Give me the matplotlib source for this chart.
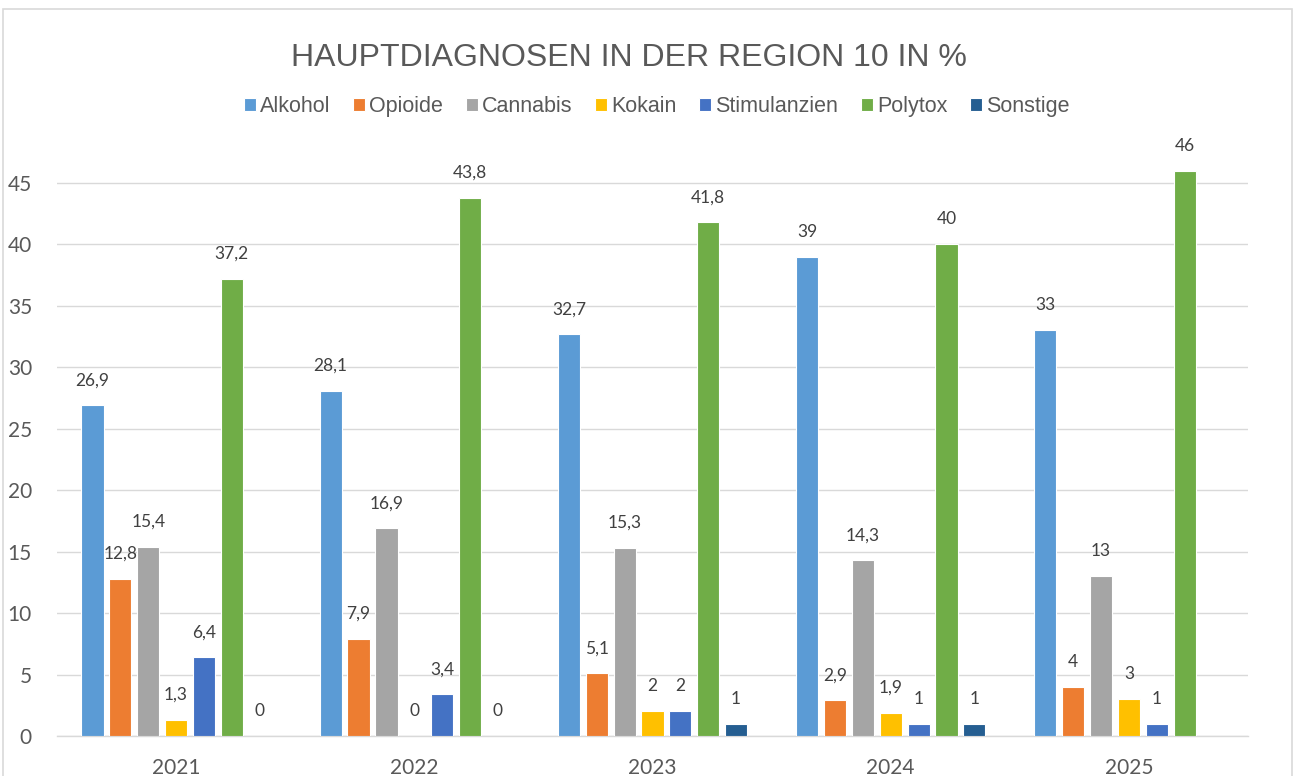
#Hauptdiagnosen Region 10 - grouped bar chart
import numpy as np
import matplotlib
matplotlib.use("Agg")
import matplotlib.pyplot as plt
from matplotlib.patches import Rectangle

# data
years = ["2021", "2022", "2023", "2024", "2025"]
series_names = ["Alkohol", "Opioide", "Cannabis", "Kokain", "Stimulanzien", "Polytox", "Sonstige"]
alkohol = [26.9, 28.1, 32.7, 39, 33]
opioide = [12.8, 7.9, 5.1, 2.9, 4]
cannabis = [15.4, 16.9, 15.3, 14.3, 13]
kokain = [1.3, 0, 2, 1.9, 3]
stimulanzien = [6.4, 3.4, 2, 1, 1]
polytox = [37.2, 43.8, 41.8, 40, 46]
sonstige = [0, 0, 1, 1, np.nan]

colors = ["#5B9BD5", "#ED7D31", "#A5A5A5", "#FFC000", "#4472C4", "#70AD47", "#255E91"]
all_series = [alkohol, opioide, cannabis, kokain, stimulanzien, polytox, sonstige]

def fmt(v):
    # german decimal comma like Excel
    if float(v).is_integer():
        return str(int(v))
    return str(v).replace(".", ",")

fig = plt.figure(figsize=(12.98, 7.76), dpi=100)
ax = fig.add_axes([0.0439, 0.0515, 0.9176, 0.7919])

x = np.arange(len(years))
step = 0.117
width = 0.093
n = len(all_series)

for i, (name, vals, col) in enumerate(zip(series_names, all_series, colors)):
    pos = x + (i - (n - 1) / 2) * step
    ax.bar(pos, vals, width=width, color=col, label=name, edgecolor="white", linewidth=0.8, zorder=3)
    for px, v in zip(pos, vals):
        if np.isnan(v):
            continue
        ax.annotate(fmt(v), (px, v), xytext=(0, 18), textcoords="offset points",
                    ha="center", va="center", fontsize=12.5, color="#404040", family="Lato")

ax.set_ylim(0, 50)
ax.set_xlim(-0.5, len(years) - 0.5)
ax.set_yticks(range(0, 50, 5))
ax.set_xticks(x)
ax.set_xticklabels(years)
ax.tick_params(axis="both", length=0, labelsize=15, colors="#595959")
ax.tick_params(axis="x", pad=16)
ax.tick_params(axis="y", pad=18)
for lab in ax.get_xticklabels() + ax.get_yticklabels():
    lab.set_family("Lato")

ax.grid(axis="y", color="#D9D9D9", linewidth=1, zorder=0)
for s in ["top", "right", "left"]:
    ax.spines[s].set_visible(False)
ax.spines["bottom"].set_color("#D9D9D9")
ax.spines["bottom"].set_linewidth(1)

fig.text(0.4846, 0.925, "HAUPTDIAGNOSEN IN DER REGION 10 IN %", ha="center", va="center",
         fontsize=23, color="#595959", family="Liberation Sans")

handles, labels = ax.get_legend_handles_labels()
fig.legend(handles, labels, loc="center", bbox_to_anchor=(0.506, 0.863), ncol=7, frameon=False,
           handlelength=0.55, handleheight=0.55, handletextpad=0.2, columnspacing=1.05,
           prop={"family": "Liberation Sans", "size": 15.5}, labelcolor="#595959")

# chart border
fig.patches.append(Rectangle((3 / 1298, -0.05), 1289 / 1298, 1.05 - 9 / 776, transform=fig.transFigure,
                             fill=False, edgecolor="#D9D9D9", linewidth=1.2))

fig.savefig("out.png", dpi=100)
